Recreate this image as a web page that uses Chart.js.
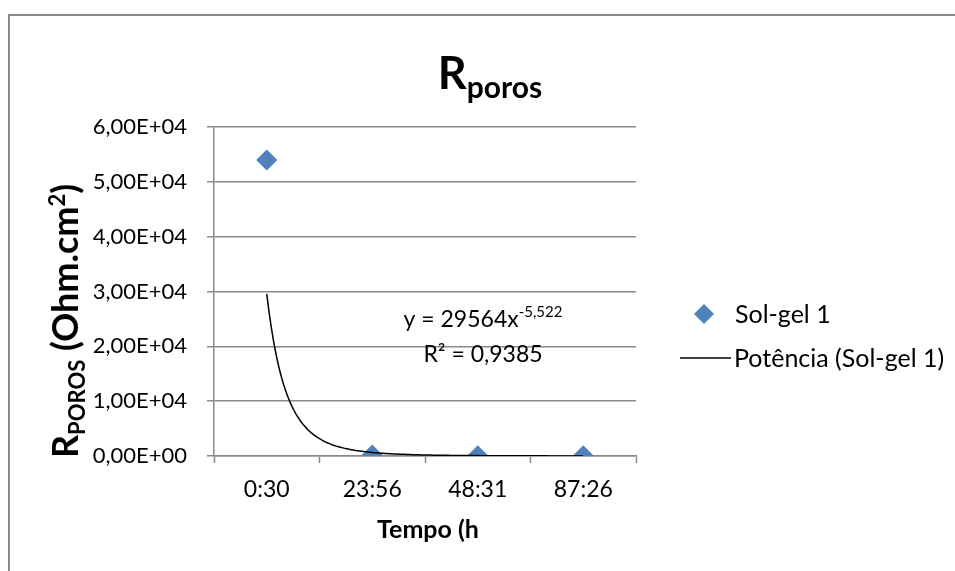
<!DOCTYPE html>
<html>
<head>
<meta charset="utf-8">
<script src="https://cdn.jsdelivr.net/npm/chart.js@4.4.1/dist/chart.umd.min.js"></script>
<style>
  html, body { margin: 0; background: #fff; }
  #wrap { width: 955px; height: 571px; position: relative; }
</style>
</head>
<body>
<div id="wrap"><canvas id="chart"></canvas></div>
<script>
// data
const categories = ['0:30', '23:56', '48:31', '87:26'];
const solGel1 = [54000, 200, 64, 26];
const yTicks = [0, 10000, 20000, 30000, 40000, 50000, 60000];
// power trendline as printed on the chart: y = 29564 x^-5,522
const trendCoef = 29564;
const trendExp = -5.522;
const trendStep = 0.02;

const FONT = 'Lato, "Open Sans", sans-serif';
const GRID = '#8a8a8a';
const BLUE = '#4F81BD';

function sciLabel(v) {
    if (v === 0) return '0,00E+00';
    const e = Math.floor(Math.log10(v));
    const m = (v / Math.pow(10, e)).toFixed(2).replace('.', ',');
    return m + 'E+' + String(e).padStart(2, '0');
}

const points = solGel1.map((v, i) => ({ x: i + 1, y: v }));
const trend = [];
for (let x = 1; x <= categories.length + 1e-9; x += trendStep) {
    trend.push({ x: x, y: trendCoef * Math.pow(x, trendExp) });
}

// text made of pieces (sub/superscripts), left-aligned from x
function richWidth(ctx, parts) {
    let w = 0;
    parts.forEach(p => { ctx.font = p.font; w += ctx.measureText(p.text).width; });
    return w;
}
function drawRich(ctx, parts, x, y) {
    parts.forEach(p => {
        ctx.font = p.font;
        ctx.fillText(p.text, x, y + (p.dy || 0));
        x += ctx.measureText(p.text).width;
    });
}

const decorations = {
    id: 'decorations',
    afterDraw(chart) {
        const ctx = chart.ctx;
        ctx.save();
        ctx.fillStyle = '#000';
        ctx.textBaseline = 'alphabetic';
        ctx.textAlign = 'left';

        // frame (only top and left edge show in the crop)
        ctx.strokeStyle = GRID;
        ctx.lineWidth = 2;
        ctx.strokeRect(9, 15, 960, 580);

        // title
        const title = [
            { text: 'R', font: 'bold 45px ' + FONT },
            { text: 'poros', font: 'bold 30px ' + FONT, dy: 9 }
        ];
        drawRich(ctx, title, 490 - richWidth(ctx, title) / 2, 89);

        // y axis title
        const yTitle = [
            { text: 'R', font: 'bold 36px ' + FONT },
            { text: 'POROS', font: 'bold 22px ' + FONT, dy: 7 },
            { text: ' (Ohm.cm', font: 'bold 36px ' + FONT },
            { text: '2', font: 'bold 22px ' + FONT, dy: -13 },
            { text: ')', font: 'bold 36px ' + FONT }
        ];
        ctx.save();
        ctx.translate(78, 321);
        ctx.rotate(-Math.PI / 2);
        drawRich(ctx, yTitle, -richWidth(ctx, yTitle) / 2, 0);
        ctx.restore();

        // x axis title
        ctx.font = 'bold 25px ' + FONT;
        ctx.textAlign = 'center';
        ctx.fillText('Tempo (h', 428, 538);

        // trendline equation
        ctx.textAlign = 'left';
        const eq = [
            { text: 'y = 29564x', font: '23px ' + FONT },
            { text: '-5,522', font: '15px ' + FONT, dy: -10 }
        ];
        drawRich(ctx, eq, 483 - richWidth(ctx, eq) / 2, 327);
        ctx.font = '23px ' + FONT;
        ctx.textAlign = 'center';
        ctx.fillText('R² = 0,9385', 483, 362);

        // legend
        ctx.textAlign = 'left';
        ctx.textBaseline = 'middle';
        ctx.fillStyle = BLUE;
        ctx.beginPath();
        ctx.moveTo(704, 304);
        ctx.lineTo(714, 314);
        ctx.lineTo(704, 324);
        ctx.lineTo(694, 314);
        ctx.closePath();
        ctx.fill();
        ctx.fillStyle = '#000';
        ctx.font = '25px ' + FONT;
        ctx.fillText('Sol-gel 1', 735, 315);
        ctx.strokeStyle = '#000';
        ctx.lineWidth = 1.5;
        ctx.beginPath();
        ctx.moveTo(680, 358);
        ctx.lineTo(731, 358);
        ctx.stroke();
        ctx.fillText('Potência (Sol-gel 1)', 734, 359);
        ctx.restore();
    }
};

new Chart(document.getElementById('chart'), {
    type: 'scatter',
    data: {
        datasets: [
            {
                label: 'Potência (Sol-gel 1)',
                data: trend,
                showLine: true,
                borderColor: '#000',
                borderWidth: 1.5,
                pointRadius: 0,
                pointHoverRadius: 0,
                order: 0
            },
            {
                label: 'Sol-gel 1',
                data: points,
                pointStyle: 'rectRot',
                pointRadius: 10.5,
                backgroundColor: BLUE,
                borderColor: BLUE,
                borderWidth: 0,
                order: 1
            }
        ]
    },
    options: {
        responsive: true,
        maintainAspectRatio: false,
        animation: false,
        events: [],
        layout: { padding: { left: 0, right: 319, top: 127, bottom: 0 } },
        plugins: {
            legend: { display: false },
            title: { display: false },
            tooltip: { enabled: false }
        },
        scales: {
            x: {
                type: 'linear',
                min: 0.5,
                max: categories.length + 0.5,
                afterBuildTicks: s => {
                    const t = [];
                    for (let v = 0.5; v <= categories.length + 0.5; v += 0.5) t.push({ value: v });
                    s.ticks = t;
                },
                afterFit: s => { s.height = 115; },
                border: { display: true, color: GRID, width: 1.5 },
                grid: {
                    drawOnChartArea: false,
                    tickLength: 7,
                    tickWidth: 1.5,
                    tickColor: c => (c.tick && c.tick.value % 1 !== 0) ? GRID : 'rgba(0,0,0,0)'
                },
                ticks: {
                    autoSkip: false,
                    maxRotation: 0,
                    padding: 13,
                    color: '#000',
                    font: { family: FONT, size: 23 },
                    callback: v => (v % 1 === 0) ? categories[v - 1] : ''
                }
            },
            y: {
                min: 0,
                max: 60000,
                afterBuildTicks: s => { s.ticks = yTicks.map(v => ({ value: v })); },
                afterFit: s => { s.width = 214; },
                border: { display: true, color: GRID, width: 1.5 },
                grid: { color: GRID, lineWidth: 1.5, tickLength: 7 },
                ticks: {
                    padding: 20,
                    color: '#000',
                    font: { family: FONT, size: 22 },
                    callback: v => sciLabel(v)
                }
            }
        }
    },
    plugins: [decorations]
});
</script>
</body>
</html>
